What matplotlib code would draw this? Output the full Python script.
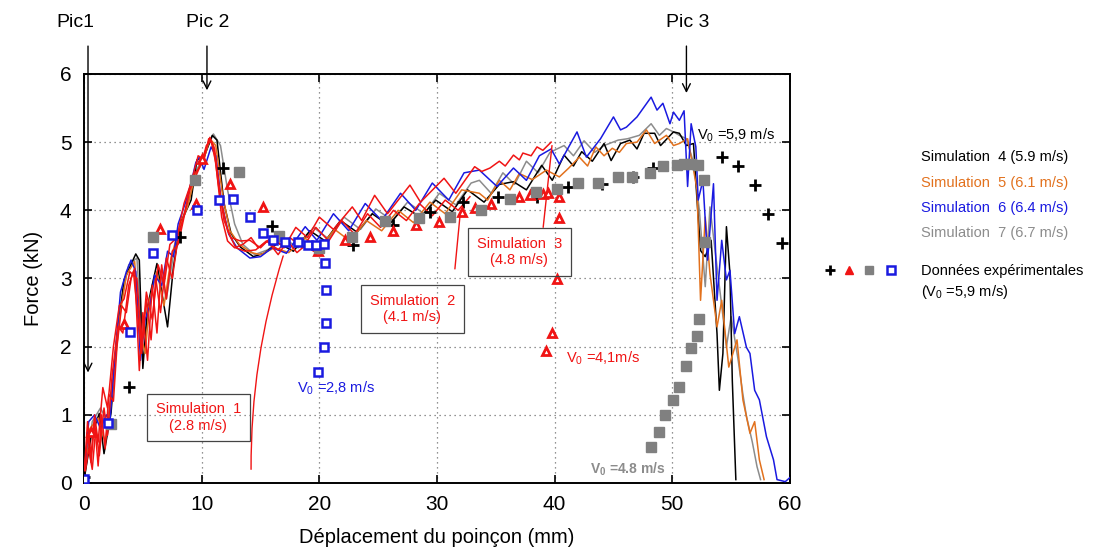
import matplotlib.pyplot as plt
from matplotlib.lines import Line2D
import numpy as np

plt.rcParams['font.family'] = ['Liberation Sans', 'DejaVu Sans']

# simulations (x = displacement mm, y = force kN)
sim4 = [(0, 0.04), (0.6, 0.68), (1.3, 1.02), (1.7, 0.43), (2.3, 1.03), (2.8, 2.14), (3.4, 2.98),
        (4.4, 3.36), (4.7, 3.27), (5.0, 1.68), (5.4, 2.58), (5.7, 2.83), (6.2, 3.22), (7.1, 2.29),
        (7.6, 3.17), (8.2, 3.81), (9.1, 4.15), (9.6, 4.74), (10.2, 4.78), (10.9, 5.10), (11.3, 5.03),
        (11.9, 4.10), (12.5, 3.66), (13.3, 3.46), (14.4, 3.32), (15.3, 3.37), (16.5, 3.52), (17.8, 3.40),
        (19.2, 3.70), (20.5, 3.55), (21.8, 3.85), (23.2, 3.68), (24.5, 3.95), (25.9, 3.78), (27.2, 4.05),
        (28.6, 3.90), (29.9, 4.15), (31.3, 3.98), (32.6, 4.30), (34.0, 4.12), (35.3, 4.38), (36.5, 4.42),
        (37.6, 4.30), (38.9, 4.66), (39.8, 4.44), (40.8, 4.81), (41.6, 4.65), (42.3, 4.86), (43.2, 4.72),
        (44.2, 4.98), (44.8, 4.73), (45.6, 4.98), (46.4, 5.03), (47.0, 4.90), (47.6, 5.13), (48.5, 5.13),
        (49.0, 4.95), (50.1, 5.15), (50.6, 5.13), (51.2, 4.95), (51.8, 4.98), (52.1, 4.15), (52.4, 3.41),
        (52.8, 3.32), (53.3, 3.56), (53.8, 2.19), (54.0, 1.36), (54.3, 1.90), (54.6, 3.76), (54.9, 3.07),
        (55.1, 1.50), (55.4, 0.05)]
sim5 = [(0, 0.05), (0.5, 0.80), (1.2, 0.95), (1.8, 0.60), (2.4, 1.30), (3.0, 2.40), (3.6, 3.05),
        (4.3, 3.25), (4.8, 2.20), (5.2, 1.90), (5.6, 2.70), (6.2, 3.10), (6.8, 2.60), (7.4, 3.30),
        (8.1, 3.75), (8.8, 4.05), (9.5, 4.55), (10.1, 4.70), (10.7, 5.05), (11.2, 4.95), (11.8, 4.20),
        (12.4, 3.70), (13.2, 3.50), (14.2, 3.38), (15.0, 3.35), (16.2, 3.45), (17.4, 3.38), (18.7, 3.60),
        (20.0, 3.45), (21.3, 3.72), (22.6, 3.55), (24.0, 3.85), (25.3, 3.70), (26.7, 4.00), (28.0, 3.82),
        (29.4, 4.12), (30.7, 3.95), (32.1, 4.30), (33.6, 4.25), (34.3, 4.15), (35.3, 4.44), (36.2, 4.30),
        (37.0, 4.54), (38.1, 4.45), (39.3, 4.59), (40.4, 4.49), (41.2, 4.62), (42.1, 4.78), (42.8, 4.65),
        (43.5, 4.93), (44.2, 4.80), (44.9, 4.91), (45.5, 4.85), (46.1, 4.98), (47.0, 5.00), (47.8, 5.18),
        (48.5, 4.98), (49.5, 5.10), (50.1, 4.95), (50.6, 4.98), (51.3, 5.05), (51.8, 4.60), (52.1, 4.30),
        (52.4, 2.68), (52.8, 3.90), (53.2, 3.07), (53.8, 2.29), (54.2, 2.68), (54.8, 1.70), (55.5, 2.10),
        (56.0, 1.22), (56.6, 0.73), (57.0, 0.90), (57.4, 0.34), (57.8, 0.05)]
sim6 = [(0, 0.05), (0.4, 0.90), (0.9, 1.00), (1.4, 0.80), (1.9, 1.00), (2.2, 0.90), (2.6, 1.80),
        (3.1, 2.80), (3.6, 3.10), (4.0, 3.27), (4.4, 3.10), (4.8, 1.80), (5.2, 2.40), (5.6, 2.60),
        (6.0, 3.05), (6.6, 2.90), (7.1, 3.40), (7.6, 3.32), (8.0, 3.80), (8.6, 4.10), (9.1, 4.40),
        (9.5, 4.70), (9.8, 4.78), (10.2, 4.60), (10.8, 4.93), (11.2, 4.80), (11.7, 4.10), (12.3, 3.65),
        (13.0, 3.45), (14.1, 3.30), (15.0, 3.32), (16.0, 3.45), (17.2, 3.37), (18.8, 3.76), (19.8, 3.56),
        (21.2, 3.95), (22.5, 3.70), (23.9, 4.10), (25.3, 3.85), (26.9, 4.25), (28.2, 4.00), (29.6, 4.40),
        (31.0, 4.15), (32.3, 4.55), (33.6, 4.59), (35.1, 4.35), (36.5, 4.62), (37.6, 4.44), (38.7, 4.80),
        (39.7, 4.90), (40.4, 4.68), (41.9, 5.15), (42.7, 4.78), (43.9, 5.05), (45.0, 5.37), (45.6, 5.18),
        (46.1, 5.22), (47.0, 5.37), (48.2, 5.66), (48.7, 5.47), (49.2, 5.57), (49.8, 5.27), (50.1, 5.44),
        (50.6, 5.32), (51.0, 5.46), (51.3, 4.35), (51.6, 5.27), (52.0, 4.93), (52.2, 4.15), (52.6, 4.44),
        (53.0, 3.27), (53.5, 4.39), (53.8, 2.68), (54.2, 3.56), (54.6, 2.98), (54.9, 3.12), (55.3, 2.19),
        (55.7, 2.44), (56.3, 1.99), (56.6, 1.90), (57.0, 1.36), (57.4, 1.22), (58.0, 0.68), (58.6, 0.34),
        (58.9, 0.05), (59.6, 0.02), (60.0, 0.08)]
sim7 = [(0, 0.05), (0.7, 0.90), (1.4, 1.10), (2.0, 0.90), (2.6, 1.70), (3.2, 2.70), (3.8, 3.20),
        (4.5, 3.30), (4.9, 2.10), (5.3, 2.30), (5.8, 2.90), (6.4, 3.15), (7.0, 2.70), (7.6, 3.35),
        (8.3, 3.85), (9.0, 4.20), (9.6, 4.60), (10.3, 4.85), (11.0, 5.12), (11.6, 4.95), (12.2, 4.30),
        (12.8, 3.80), (13.5, 3.50), (14.5, 3.35), (15.6, 3.42), (16.9, 3.60), (18.2, 3.45), (19.5, 3.75),
        (20.8, 3.58), (22.1, 3.90), (23.5, 3.72), (24.8, 4.02), (26.2, 3.85), (27.5, 4.12), (28.9, 3.95),
        (30.2, 4.25), (31.6, 4.08), (32.9, 4.40), (33.6, 4.44), (34.6, 4.25), (35.6, 4.55), (36.6, 4.38),
        (37.6, 4.72), (38.6, 4.55), (39.6, 4.85), (40.8, 4.95), (41.6, 4.80), (42.5, 5.02), (43.4, 4.85),
        (44.2, 4.95), (45.4, 5.03), (46.2, 5.05), (47.2, 5.10), (48.2, 5.27), (48.9, 5.10), (49.5, 5.20),
        (50.1, 5.15), (50.6, 5.10), (51.2, 5.05), (51.8, 4.70), (52.3, 4.00), (52.8, 2.88), (53.2, 4.05),
        (53.8, 3.17), (54.2, 2.60), (54.6, 2.00), (55.0, 2.44), (55.6, 1.80), (56.0, 1.30), (56.3, 0.98),
        (56.8, 0.60), (57.2, 0.24), (57.5, 0.05)]
sim1 = [(0, 0.10), (0.3, 0.70), (0.6, 0.30), (0.9, 0.90), (1.2, 0.25), (1.5, 1.00), (1.8, 0.50),
        (2.1, 1.30), (2.5, 1.20), (2.8, 2.00), (3.2, 2.60), (3.6, 2.50), (4.0, 3.00), (4.3, 3.15),
        (4.7, 1.65), (5.0, 2.50), (5.4, 1.80), (5.8, 2.90), (6.2, 2.20), (6.6, 3.20), (7.0, 2.70),
        (7.5, 3.40), (8.0, 3.50), (8.5, 3.90), (9.0, 4.30), (9.5, 4.50), (10.0, 4.70), (10.4, 4.95),
        (10.8, 5.02), (11.2, 4.70), (11.7, 3.90), (12.2, 3.55), (12.8, 3.45), (13.5, 3.50), (14.2, 3.60),
        (14.8, 3.45), (15.6, 3.55), (16.5, 3.35), (17.3, 3.55), (18.1, 3.38), (18.9, 3.50), (19.5, 3.40),
        (20.0, 3.40)]
sim2 = [(0, 0.05), (0.4, 0.50), (0.7, 0.20), (1.0, 0.80), (1.3, 0.40), (1.7, 1.10), (2.0, 0.70),
        (2.4, 1.60), (2.9, 2.30), (3.3, 2.20), (3.8, 2.90), (4.2, 3.10), (4.6, 2.40), (4.9, 1.90),
        (5.3, 2.70), (5.7, 2.10), (6.1, 3.00), (6.5, 2.50), (7.0, 3.30), (7.5, 3.00), (8.0, 3.60),
        (8.6, 4.00), (9.2, 4.50), (9.7, 4.60), (10.2, 4.80), (10.7, 5.07), (11.1, 4.90), (11.6, 4.20),
        (12.2, 3.70), (12.9, 3.45), (13.7, 3.40), (14.6, 3.42), (15.5, 3.55), (16.5, 3.42), (17.5, 3.60),
        (18.6, 3.45), (19.7, 3.75), (20.8, 3.55), (21.9, 3.85), (23.0, 3.65), (24.1, 3.95), (25.2, 3.75),
        (26.3, 4.00), (27.4, 3.85), (28.5, 4.10), (29.6, 3.92), (30.7, 4.15), (31.8, 4.00), (32.8, 4.20)]
sim3 = [(0, 0.10), (0.3, 0.90), (0.6, 0.40), (0.9, 1.00), (1.2, 0.60), (1.6, 1.40), (2.0, 1.10),
        (2.5, 2.00), (3.0, 2.60), (3.4, 2.70), (3.9, 3.10), (4.5, 3.00), (4.9, 2.00), (5.3, 2.80),
        (5.8, 2.40), (6.3, 3.20), (6.8, 2.90), (7.3, 3.50), (7.9, 3.60), (8.5, 4.10), (9.1, 4.40),
        (9.7, 4.80), (10.2, 4.75), (10.6, 5.05), (11.0, 4.95), (11.4, 4.40), (11.9, 3.85), (12.5, 3.60),
        (13.3, 3.55), (14.1, 3.56), (15.0, 3.45), (16.0, 3.62), (17.0, 3.45), (18.0, 3.75), (19.0, 3.60),
        (20.0, 3.90), (21.2, 3.72), (22.8, 4.05), (23.6, 3.85), (24.7, 4.22), (25.8, 3.95), (27.7, 4.37),
        (28.6, 4.12), (30.6, 4.47), (31.6, 4.25), (33.2, 4.64), (33.8, 4.57), (34.5, 4.62), (35.3, 4.72),
        (35.8, 4.65), (36.5, 4.81), (37.0, 4.74), (37.3, 4.84), (38.0, 4.80), (38.5, 4.93), (39.0, 4.88),
        (39.7, 5.00)]

# experimental points
exp_cross = [(0.0, 0.09), (3.8, 1.41), (8.2, 3.61), (11.8, 4.62), (16.0, 3.77), (22.9, 3.49), (26.3, 3.78),
             (29.4, 3.97), (32.2, 4.12), (35.2, 4.20), (38.5, 4.20), (41.1, 4.34), (44.0, 4.38),
             (46.7, 4.49), (48.4, 4.62), (54.2, 4.78), (55.6, 4.65), (57.0, 4.37), (58.1, 3.94), (59.3, 3.52)]
exp_tri = [(0.6, 0.75), (3.4, 2.33), (6.5, 3.73), (9.5, 4.10), (10.0, 4.76), (12.4, 4.38), (15.2, 4.05),
           (19.9, 3.40), (22.2, 3.57), (24.3, 3.61), (26.3, 3.70), (28.2, 3.78), (30.2, 3.83), (32.1, 3.98),
           (33.2, 4.03), (34.6, 4.09), (37.0, 4.19), (37.9, 4.22), (39.0, 4.24), (39.4, 4.25), (40.4, 4.20),
           (40.4, 3.88), (40.2, 2.99), (39.8, 2.20), (39.3, 1.94)]
exp_gray = [(2.3, 0.86), (5.9, 3.61), (9.4, 4.44), (13.2, 4.56), (16.6, 3.63), (20.0, 3.45), (22.8, 3.61),
            (25.6, 3.84), (28.5, 3.88), (31.1, 3.90), (33.7, 4.00), (36.2, 4.16), (38.4, 4.27), (40.2, 4.31),
            (42.0, 4.40), (43.7, 4.40), (45.4, 4.49), (46.6, 4.49), (48.1, 4.55), (49.2, 4.65), (50.4, 4.66),
            (51.0, 4.68), (51.6, 4.68), (52.2, 4.67), (52.7, 4.44), (52.8, 3.53), (52.3, 2.41), (52.1, 2.15),
            (51.6, 1.98), (51.2, 1.71), (50.6, 1.41), (50.1, 1.22), (49.4, 1.00), (48.9, 0.75), (48.2, 0.53)]
exp_blue = [(0.0, 0.06), (2.0, 0.88), (3.9, 2.22), (5.9, 3.37), (7.5, 3.64), (9.6, 4.01), (11.5, 4.15),
            (12.7, 4.17), (14.1, 3.90), (15.2, 3.66), (16.1, 3.56), (17.1, 3.53), (18.2, 3.53), (19.0, 3.49),
            (19.7, 3.49), (20.4, 3.51), (20.5, 3.23), (20.6, 2.83), (20.6, 2.35), (20.4, 1.99), (19.9, 1.63)]

legend_labels = ['Simulation  4 (5.9 m/s)', 'Simulation  5 (6.1 m/s)',
                 'Simulation  6 (6.4 m/s)', 'Simulation  7 (6.7 m/s)']

RED = '#f01414'
ORANGE = '#e2711d'
BLUE = '#1a1ae0'
GRAY = '#8c8c8c'


def xy(pts):
    a = np.array(pts)
    return a[:, 0], a[:, 1]


fig = plt.figure(figsize=(11.01, 5.6), dpi=100)
ax = fig.add_axes([0.0763, 0.1375, 0.6412, 0.7304])

lw = 1.1
for pts, c in [(sim7, GRAY), (sim4, 'black'), (sim5, ORANGE), (sim6, BLUE)]:
    ax.plot(*xy(pts), color=c, lw=lw, zorder=3)
for pts in [sim1, sim2, sim3]:
    ax.plot(*xy(pts), color=RED, lw=lw, zorder=3)

ax.plot(*xy(exp_cross), ls='none', marker='+', ms=8, mew=2, color='black', zorder=5)
ax.plot(*xy(exp_tri), ls='none', marker='^', ms=6, mew=2, mfc='white', mec=RED, zorder=5)
ax.plot(*xy(exp_gray), ls='none', marker='s', ms=6.5, color='#808080', zorder=5)
ax.plot(*xy(exp_blue), ls='none', marker='s', ms=5.5, mew=1.8, mfc='white', mec=BLUE, zorder=5)

ax.set_xlim(0, 60)
ax.set_ylim(0, 6)
ax.set_xticks(range(0, 61, 10))
ax.set_yticks(range(0, 7))
ax.grid(True, color='#707070', ls=(0, (1, 3)), lw=0.9)
ax.tick_params(direction='in', top=True, right=True, length=6, width=1.2, labelsize=15, pad=9)
for s in ax.spines.values():
    s.set_linewidth(1.4)
ax.set_xlabel('Déplacement du poinçon (mm)', fontsize=14.5, labelpad=10)
ax.set_ylabel('Force (kN)', fontsize=14.5, labelpad=12)

# boxed simulation labels with leader lines
box = dict(boxstyle='square,pad=0.6', fc='none', ec='#444444', lw=0.9)
ax.text(9.7, 0.96, 'Simulation  1\n(2.8 m/s)', color=RED, fontsize=10.5, ha='center', va='center',
        bbox=box, zorder=6)
ax.text(27.9, 2.55, 'Simulation  2\n(4.1 m/s)', color=RED, fontsize=10.5, ha='center', va='center',
        bbox=box, zorder=6)
ax.text(37.0, 3.39, 'Simulation  3\n(4.8 m/s)', color=RED, fontsize=10.5, ha='center', va='center',
        bbox=box, zorder=6)
lead = dict(arrowstyle='-', color=RED, lw=1.0)
ax.annotate('', xy=(17.0, 3.37), xytext=(14.2, 0.16),
            arrowprops=dict(lead, connectionstyle='arc3,rad=-0.08'))
ax.annotate('', xy=(32.0, 4.0), xytext=(31.5, 3.1), arrowprops=lead)
ax.annotate('', xy=(39.8, 4.99), xytext=(39.0, 3.71), arrowprops=lead)

# V0 labels
ax.text(18.1, 1.39, r'$\mathregular{V_0}$ =2,8 m/s', color=BLUE, fontsize=10.5, va='center')
ax.text(40.95, 1.83, r'$\mathregular{V_0}$ =4,1m/s', color=RED, fontsize=10.5, va='center')
ax.text(43.0, 0.2, r'$\mathregular{V_0}$ =4.8 m/s', color=GRAY, fontsize=10, fontweight='bold',
        va='center')
ax.text(52.1, 5.1, r'$\mathregular{V_0}$ =5,9 m/s', color='black', fontsize=10.5, va='center', zorder=6)

# peak arrows
arr = dict(arrowstyle='->', color='black', lw=1.0, mutation_scale=14)
for xp, yend, lab, xt in [(0.34, 1.58, 'Pic1', -0.76), (10.45, 5.72, 'Pic 2', 10.5),
                           (51.2, 5.68, 'Pic 3', 51.3)]:
    ax.annotate('', xy=(xp, yend), xytext=(xp, 6.45), arrowprops=arr, annotation_clip=False)
    ax.text(xt, 6.76, lab, fontsize=14, ha='center', va='center', clip_on=False)

# legend on the right
for i, (lab, c) in enumerate(zip(legend_labels, ['black', ORANGE, BLUE, GRAY])):
    fig.text(0.8365, 1 - (157 + 25.5 * i) / 560, lab, color=c, fontsize=10.5, va='center')

for xpx, kw in [(830, dict(marker='+', ms=7, mew=2, color='black')),
                (849, dict(marker='^', ms=6, color=RED)),
                (869, dict(marker='s', ms=6, color='#808080')),
                (891, dict(marker='s', ms=5.5, mew=1.8, mfc='white', mec=BLUE))]:
    fig.add_artist(Line2D([xpx / 1101], [1 - 270 / 560], transform=fig.transFigure, ls='none', **kw))
fig.text(0.8365, 1 - 271 / 560, 'Données expérimentales', fontsize=10.5, va='center')
fig.text(0.8365, 1 - 292 / 560, r'($\mathregular{V_0}$ =5,9 m/s)', fontsize=10.5, va='center')

fig.savefig('out.png', dpi=100)
